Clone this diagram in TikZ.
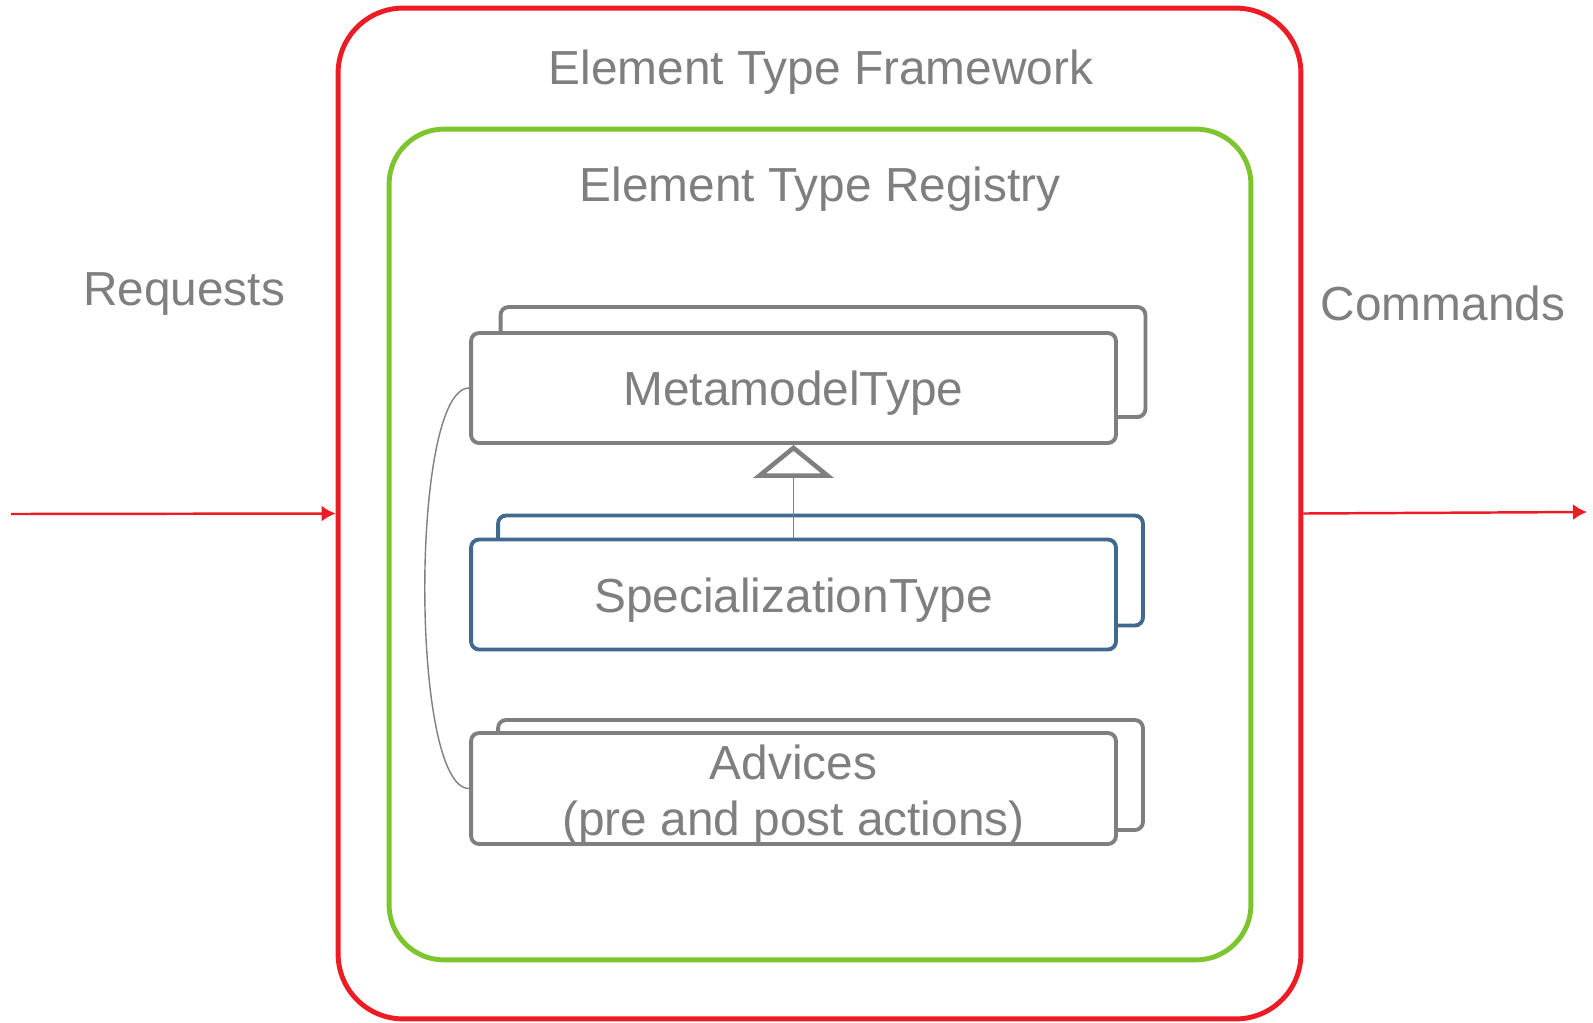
\documentclass[tikz,border=0pt]{standalone}
\usepackage{fontspec}
\setmainfont{Liberation Sans}
\usepackage{tikz}
\usetikzlibrary{arrows.meta}
\definecolor{typegray}{HTML}{7F7F7F}
\definecolor{typeblue}{HTML}{41698F}
\definecolor{framered}{HTML}{ED1C24}
\definecolor{reggreen}{HTML}{7DC52E}
\tikzstyle{block} = [rectangle, draw=typegray, line width=2.2pt, fill=white,
                 rounded corners=0.16cm, minimum width=12.9cm, minimum height=2.2cm,
                 inner sep=0pt]
\tikzstyle{branch} = [draw=typegray, line width=0.8pt]
\tikzset{
	lbl/.style={text=typegray, font=\fontsize{27.2}{31.9}\selectfont, inner sep=0pt},
	outer/.style={rectangle, line width=2.8pt, inner sep=0pt},
	flow/.style={draw=framered, line width=1.4pt, -{Latex[length=0.28cm, width=0.32cm]}},
}

\begin{document}
\begin{tikzpicture}[x=0.02cm, y=-0.02cm]

\useasboundingbox (0,0) rectangle (1593,1022);

% framework and registry
\node [outer, draw=framered, rounded corners=1.3cm, minimum width=19.26cm,
       minimum height=20.22cm] at (819.5,513.5) (frame) {};
\node [outer, draw=reggreen, rounded corners=1.1cm, minimum width=17.24cm,
       minimum height=16.62cm] at (820,544.5) (registry) {};

\node [lbl] at (821,72) (frametitle) {Element Type Framework};
\node [lbl] at (820,189) (regtitle) {Element Type Registry};

% types
\node [block] at (823,362) (metaback) {};
\node [block] at (793.5,388) (meta) {};
\node [block, draw=typeblue] at (820.5,570.5) (specback) {};
\node [block, draw=typeblue] at (793.5,594.5) (spec) {};
\node [block] at (820.5,775) (advback) {};
\node [block, minimum height=2.22cm] at (793.5,788.5) (adv) {};

\node [lbl] at (793.5,393) (metatext) {MetamodelType};
\node [lbl] at (793.5,600) (spectext) {SpecializationType};
\node [lbl, align=center] at (793.5,795) (advtext) {Advices\\(pre and post actions)};

\path [branch, -{Triangle[open, length=0.66cm, width=1.6cm, line width=2.6pt]}]
	(spec.north) -- (meta.south);
\path [branch] (meta.west) .. controls (410,388) and (410,789) .. (adv.west);

% requests in, commands out
\coordinate (reqin) at (11,514);
\coordinate (cmdout) at (1587,512);
\node [lbl] at (184,294) (requests) {Requests};
\node [lbl] at (1443,303) (commands) {Commands};
\draw [flow] (reqin) -- (frame.west);
\draw [flow] (frame.east) -- (cmdout);

\end{tikzpicture}
\end{document}
